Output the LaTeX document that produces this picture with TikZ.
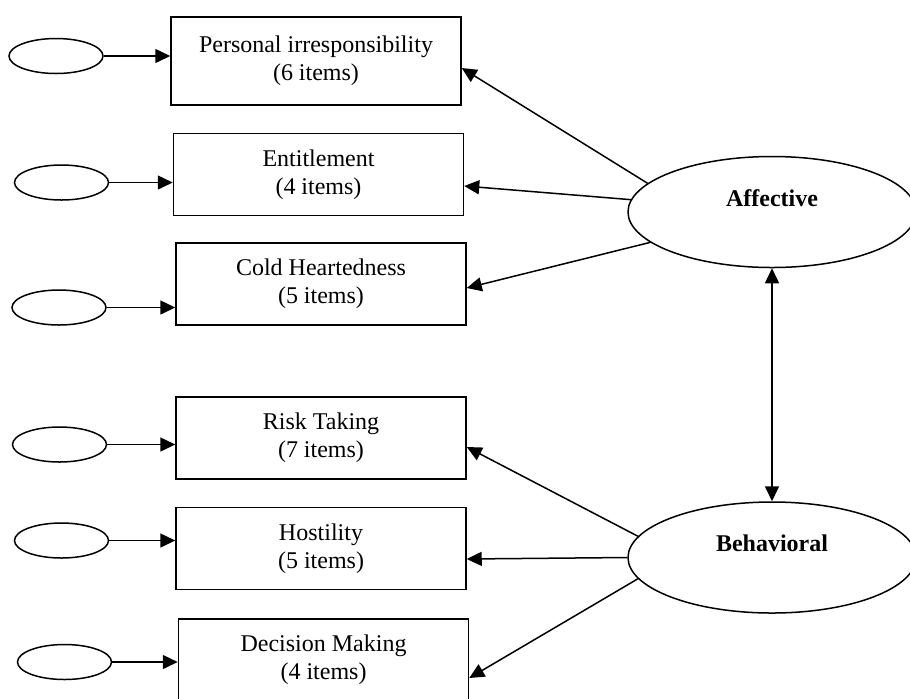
\documentclass[tikz,border=0pt]{standalone}
\usepackage{fontspec}
\setmainfont{Liberation Serif}
\usetikzlibrary{shapes.geometric,arrows.meta,positioning}

\tikzset{
    indicator/.style={draw, line width=0.75pt, minimum width=145pt, minimum height=41pt,
        inner sep=0pt, align=center, font=\fontsize{12}{14}\selectfont},
    residual/.style={draw, ellipse, line width=0.75pt, minimum width=47pt,
        minimum height=17.5pt, inner sep=0pt},
    factor/.style={draw, ellipse, line width=0.75pt, minimum width=144pt,
        minimum height=55.5pt, inner sep=0pt, align=center,
        font=\fontsize{12}{14}\selectfont\bfseries},
    load/.style={line width=0.75pt, -{Triangle[length=7.5pt,width=7pt]}},
    corr/.style={line width=0.75pt, {Triangle[length=7.5pt,width=7pt]}-{Triangle[length=7.5pt,width=7pt]}}
}

\begin{document}
\begin{tikzpicture}[x=0.5pt, y=-0.5pt]
    \useasboundingbox (0,0) rectangle (910,698);

    % Define the item boxes
    \node[indicator, minimum height=44pt] (pers) at (316,61) {Personal irresponsibility\\(6 items)};
    \node[indicator] (entit) at (318.5,174.5) {Entitlement\\(4 items)};
    \node[indicator] (cold) at (321,284) {Cold Heartedness\\(5 items)};
    \node[indicator] (risk) at (321,438) {Risk Taking\\(7 items)};
    \node[indicator] (host) at (321,548.5) {Hostility\\(5 items)};
    \node[indicator] (decis) at (323.5,660) {Decision Making\\(4 items)};

    % Error terms
    \node[residual] (epers) at (56,56) {};
    \node[residual] (eentit) at (61.5,182.5) {};
    \node[residual] (ecold) at (59,307.5) {};
    \node[residual] (erisk) at (59.5,444.5) {};
    \node[residual] (ehost) at (61.5,540.5) {};
    \node[residual] (edecis) at (64.5,662) {};

    % Latent factors
    \node[factor] (affect) at (772,212) {Affective\\\mbox{}};
    \node[factor] (behav) at (772,557.5) {Behavioral\\\mbox{}};

    % Errors into items
    \foreach \item in {pers,entit,cold,risk,host,decis}
        \draw[load] (e\item.east) -- (e\item.east -| \item.west);

    % Loadings
    \draw[load] (affect.167) -- ([yshift=-3.5pt]pers.east);
    \draw[load] (affect.175) -- ([yshift=-5.75pt]entit.east);
    \draw[load] (affect.194) -- ([yshift=-2pt]cold.east);
    \draw[load] (behav.171.5) -- ([yshift=-4.5pt]risk.east);
    \draw[load] (behav.180) -- ([yshift=-5.25pt]host.east);
    \draw[load] (behav.189.5) -- ([yshift=-9pt]decis.east);

    % Factor correlation
    \draw[corr] (affect.south) -- (behav.north);
\end{tikzpicture}
\end{document}
